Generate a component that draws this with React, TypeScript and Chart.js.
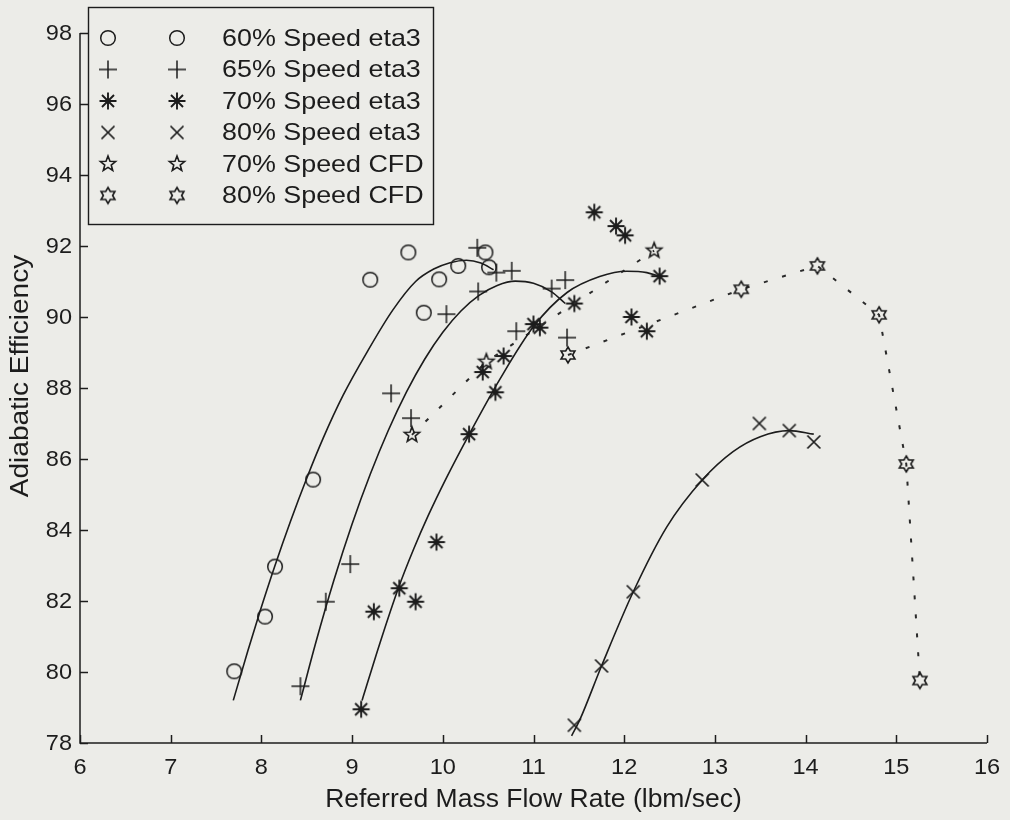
import { useEffect, useRef } from "react";
import { Chart, registerables } from "chart.js";

Chart.register(...registerables);

// ---- axis ticks ----
const xTicks = [6, 7, 8, 9, 10, 11, 12, 13, 14, 15, 16];
const yTicks = [78, 80, 82, 84, 86, 88, 90, 92, 94, 96, 98];

const xTitle = "Referred Mass Flow Rate (lbm/sec)";
const yTitle = "Adiabatic Efficiency";

const seriesNames = [
  "60% Speed eta3",
  "65% Speed eta3",
  "70% Speed eta3",
  "80% Speed eta3",
  "70% Speed CFD",
  "80% Speed CFD",
];

// ---- measured efficiency (eta3) ----
const speed60Flow = [7.7, 8.04, 8.15, 8.57, 9.2, 9.62, 9.79, 9.96, 10.17, 10.47, 10.51];
const speed60Eff = [80.02, 81.56, 82.97, 85.42, 91.05, 91.82, 90.12, 91.06, 91.44, 91.82, 91.4];

const speed65Flow = [8.43, 8.71, 8.98, 9.43, 9.65, 10.04, 10.38, 10.39, 10.59, 10.76, 10.81, 11.2, 11.35, 11.37];
const speed65Eff = [79.6, 81.98, 83.04, 87.85, 87.15, 90.08, 91.95, 90.72, 91.25, 91.3, 89.6, 90.8, 91.04, 89.42];

const speed70Flow = [9.1, 9.24, 9.52, 9.7, 9.93, 10.29, 10.44, 10.58, 10.67, 11.0, 11.07, 11.45, 11.67, 11.91, 12.01, 12.08, 12.25, 12.39];
const speed70Eff = [78.95, 81.7, 82.36, 81.98, 83.66, 86.7, 88.45, 87.88, 88.9, 89.8, 89.7, 90.38, 92.95, 92.56, 92.3, 90.0, 89.6, 91.15];

const speed80Flow = [11.45, 11.75, 12.1, 12.86, 13.49, 13.82, 14.09];
const speed80Eff = [78.5, 80.17, 82.26, 85.41, 87.0, 86.8, 86.48];

// ---- CFD predictions ----
const cfd70Flow = [9.66, 10.48, 12.33];
const cfd70Eff = [86.68, 88.74, 91.87];

const cfd80Flow = [11.38, 13.29, 14.13, 14.81, 15.11, 15.26];
const cfd80Eff = [88.93, 90.78, 91.44, 90.06, 85.86, 79.76];

// ---- curve fits through the measured data ----
const fit60Flow = [7.69, 7.85, 7.98, 8.15, 8.32, 8.5, 8.68, 8.9, 9.16, 9.45, 9.7, 9.9, 10.08, 10.26, 10.42, 10.56];
const fit60Eff = [79.2, 80.59, 81.67, 83.0, 84.24, 85.46, 86.58, 87.79, 88.99, 90.2, 91.0, 91.35, 91.53, 91.6, 91.52, 91.33];

const fit65Flow = [8.43, 8.6, 8.8, 9.0, 9.2, 9.4, 9.6, 9.8, 10.0, 10.2, 10.4, 10.6, 10.8, 11.0, 11.2, 11.35];
const fit65Eff = [79.2, 80.83, 82.59, 84.17, 85.57, 86.81, 87.89, 88.81, 89.57, 90.17, 90.61, 90.89, 91.01, 90.95, 90.71, 90.38];

const fit70Flow = [9.11, 9.31, 9.51, 9.68, 9.84, 10.04, 10.29, 10.63, 11.0, 11.37, 11.73, 12.03, 12.25, 12.39];
const fit70Eff = [79.2, 80.84, 82.36, 83.47, 84.41, 85.47, 86.69, 88.25, 89.73, 90.69, 91.14, 91.29, 91.25, 91.14];

const fit80Flow = [11.42, 11.51, 11.75, 12.1, 12.47, 12.86, 13.2, 13.5, 13.82, 14.09];
const fit80Eff = [78.2, 78.65, 80.17, 82.26, 84.09, 85.41, 86.21, 86.63, 86.8, 86.7];

const PAPER = "#ecece8";
const INK = "#1c1c1c";
const FONT = "'Liberation Sans', Arial, Helvetica, sans-serif";

type MarkerKind = "circle" | "plus" | "asterisk" | "x" | "pentagram" | "hexagram";
const markerKinds: MarkerKind[] = ["circle", "plus", "asterisk", "x", "pentagram", "hexagram"];

function starPath(g: CanvasRenderingContext2D, n: number, ro: number, ri: number) {
  g.beginPath();
  for (let i = 0; i < n * 2; i++) {
    const r = i % 2 === 0 ? ro : ri;
    const a = -Math.PI / 2 + (i * Math.PI) / n;
    const px = r * Math.cos(a);
    const py = r * Math.sin(a);
    if (i === 0) g.moveTo(px, py);
    else g.lineTo(px, py);
  }
  g.closePath();
}

function makeMarker(kind: MarkerKind): HTMLCanvasElement {
  const size = 26;
  const c = document.createElement("canvas");
  c.width = size;
  c.height = size;
  const g = c.getContext("2d")!;
  g.translate(size / 2, size / 2);
  g.strokeStyle = INK;
  g.lineWidth = 1.5;
  switch (kind) {
    case "circle":
      g.beginPath();
      g.arc(0, 0, 7.3, 0, Math.PI * 2);
      g.stroke();
      break;
    case "plus":
      g.beginPath();
      g.moveTo(-9, 0);
      g.lineTo(9, 0);
      g.moveTo(0, -9);
      g.lineTo(0, 9);
      g.stroke();
      break;
    case "asterisk": {
      g.lineWidth = 1.9;
      g.beginPath();
      for (let i = 0; i < 4; i++) {
        const a = (i * Math.PI) / 4;
        g.moveTo(-8.5 * Math.cos(a), -8.5 * Math.sin(a));
        g.lineTo(8.5 * Math.cos(a), 8.5 * Math.sin(a));
      }
      g.stroke();
      g.fillStyle = INK;
      g.beginPath();
      g.arc(0, 0, 2.6, 0, Math.PI * 2);
      g.fill();
      break;
    }
    case "x":
      g.lineWidth = 1.7;
      g.beginPath();
      g.moveTo(-6.5, -6.5);
      g.lineTo(6.5, 6.5);
      g.moveTo(-6.5, 6.5);
      g.lineTo(6.5, -6.5);
      g.stroke();
      break;
    case "pentagram":
      g.lineWidth = 1.6;
      g.lineJoin = "miter";
      starPath(g, 5, 8, 3.4);
      g.stroke();
      break;
    case "hexagram":
      g.lineWidth = 1.6;
      g.lineJoin = "miter";
      starPath(g, 6, 8, 4.6);
      g.stroke();
      break;
  }
  return c;
}

function pts(xs: number[], ys: number[]) {
  return xs.map((x, i) => ({ x, y: ys[i] }));
}

// text drawn with a slight horizontal stretch (wide Helvetica look)
function wideText(
  ctx: CanvasRenderingContext2D,
  text: string,
  x: number,
  y: number,
  size: number,
  stretch: number,
  align: CanvasTextAlign
) {
  ctx.save();
  ctx.translate(x, y);
  ctx.scale(stretch, 1);
  ctx.font = `${size}px ${FONT}`;
  ctx.textAlign = align;
  ctx.textBaseline = "middle";
  ctx.fillText(text, 0, 0);
  ctx.restore();
}

export default function App() {
  const ref = useRef<HTMLCanvasElement>(null);

  useEffect(() => {
    document.body.style.margin = "0";
    document.body.style.background = PAPER;
    const markers = markerKinds.map(makeMarker);

    const fitStyle = {
      showLine: true,
      pointRadius: 0,
      borderColor: INK,
      borderWidth: 1.6,
      cubicInterpolationMode: "monotone" as const,
    };
    const markerStyle = (i: number) => ({
      showLine: false,
      pointStyle: markers[i],
      pointRadius: 8,
      borderColor: INK,
      backgroundColor: "transparent",
    });
    const cfdStyle = (i: number) => ({
      showLine: true,
      borderColor: "#2a2a2a",
      borderWidth: 2,
      borderDash: [4, 15],
      tension: 0,
      pointStyle: markers[i],
      pointRadius: 8,
      backgroundColor: "transparent",
    });

    const frame = {
      id: "frame",
      beforeDraw(chart: Chart) {
        const ctx = chart.ctx;
        ctx.save();
        ctx.fillStyle = PAPER;
        ctx.fillRect(0, 0, chart.width, chart.height);
        ctx.restore();
      },
      afterDatasetsDraw(chart: Chart) {
        const ctx = chart.ctx;
        const xs = chart.scales.x;
        const ys = chart.scales.y;
        const left = xs.getPixelForValue(xTicks[0]);
        const right = xs.getPixelForValue(xTicks[xTicks.length - 1]);
        const bottom = ys.getPixelForValue(yTicks[0]);
        const top = ys.getPixelForValue(yTicks[yTicks.length - 1]);
        const tick = 8;
        ctx.save();
        ctx.strokeStyle = INK;
        ctx.lineWidth = 1.5;
        ctx.beginPath();
        ctx.moveTo(left, top);
        ctx.lineTo(left, bottom);
        ctx.lineTo(right, bottom);
        for (const v of xTicks) {
          const px = Math.round(xs.getPixelForValue(v)) + 0.5;
          ctx.moveTo(px, bottom);
          ctx.lineTo(px, bottom - tick);
        }
        for (const v of yTicks) {
          const py = Math.round(ys.getPixelForValue(v)) + 0.5;
          ctx.moveTo(left, py);
          ctx.lineTo(left + tick, py);
        }
        ctx.stroke();

        // tick labels
        ctx.fillStyle = INK;
        for (const v of yTicks) wideText(ctx, String(v), left - 8, ys.getPixelForValue(v) + 1, 22, 1.07, "right");
        for (const v of xTicks) wideText(ctx, String(v), xs.getPixelForValue(v), bottom + 25, 22, 1.07, "center");

        // axis titles
        wideText(ctx, xTitle, (left + right) / 2, bottom + 57, 25, 1.06, "center");
        ctx.save();
        ctx.translate(21, (top + bottom) / 2 - 12);
        ctx.rotate(-Math.PI / 2);
        wideText(ctx, yTitle, 0, 0, 25, 1.12, "center");
        ctx.restore();

        // legend
        const bx = 88.5, by = 7.5, bw = 345, bh = 217;
        ctx.fillStyle = PAPER;
        ctx.fillRect(bx, by, bw, bh);
        ctx.lineWidth = 1.4;
        ctx.strokeRect(bx, by, bw, bh);
        ctx.fillStyle = INK;
        seriesNames.forEach((name, i) => {
          const cy = 38 + i * 31.5;
          const m = markers[i];
          ctx.drawImage(m, 108 - m.width / 2, cy - m.height / 2);
          ctx.drawImage(m, 177 - m.width / 2, cy - m.height / 2);
          wideText(ctx, name, 222, cy + 1, 24, 1.12, "left");
        });
        ctx.restore();
      },
    };

    const chart = new Chart(ref.current!, {
      type: "scatter",
      data: {
        datasets: [
          { label: "fit 60", data: pts(fit60Flow, fit60Eff), ...fitStyle },
          { label: "fit 65", data: pts(fit65Flow, fit65Eff), ...fitStyle },
          { label: "fit 70", data: pts(fit70Flow, fit70Eff), ...fitStyle },
          { label: "fit 80", data: pts(fit80Flow, fit80Eff), ...fitStyle },
          { label: seriesNames[4], data: pts(cfd70Flow, cfd70Eff), ...cfdStyle(4) },
          { label: seriesNames[5], data: pts(cfd80Flow, cfd80Eff), ...cfdStyle(5) },
          { label: seriesNames[0], data: pts(speed60Flow, speed60Eff), ...markerStyle(0) },
          { label: seriesNames[1], data: pts(speed65Flow, speed65Eff), ...markerStyle(1) },
          { label: seriesNames[2], data: pts(speed70Flow, speed70Eff), ...markerStyle(2) },
          { label: seriesNames[3], data: pts(speed80Flow, speed80Eff), ...markerStyle(3) },
        ] as any,
      },
      options: {
        responsive: false,
        animation: false,
        devicePixelRatio: 1,
        events: [],
        layout: { padding: { left: 80, right: 23, top: 33, bottom: 77 } },
        plugins: { legend: { display: false }, tooltip: { enabled: false } },
        scales: {
          x: { type: "linear", min: 6, max: 16, display: false },
          y: { type: "linear", min: 78, max: 98, display: false },
        },
      },
      plugins: [frame],
    });
    return () => chart.destroy();
  }, []);

  return (
    <div style={{ width: 1010, height: 820 }}>
      <canvas ref={ref} width={1010} height={820} style={{ display: "block", width: 1010, height: 820 }} />
    </div>
  );
}
